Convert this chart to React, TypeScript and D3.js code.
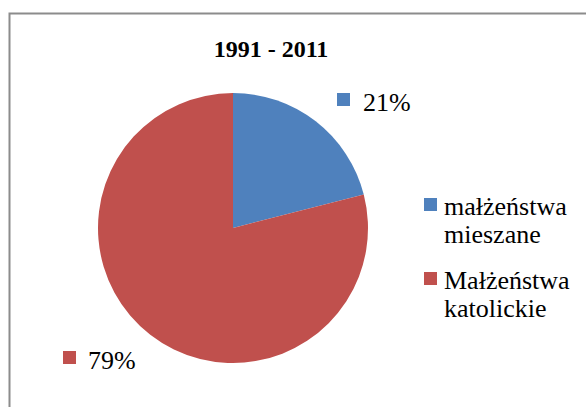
import React from 'react';
import * as d3 from 'd3';

// chart data
const categories = ['małżeństwa mieszane', 'Małżeństwa katolickie'];
const legendLines = [['małżeństwa', 'mieszane'], ['Małżeństwa', 'katolickie']];
const shares = [21, 79];
const title = '1991 - 2011';

const W = 586;
const H = 407;
const FONT = 'Liberation Serif';

const color = d3.scaleOrdinal<string, string>().domain(categories).range(['#4f81bd', '#c0504d']);

export default function App() {
  const cx = 233, cy = 228, r = 135;
  const arcs = d3.pie<number>().sort(null).value(d => d)(shares);
  const arc = d3.arc<d3.PieArcDatum<number>>().innerRadius(0).outerRadius(r);

  // data label placement (square marker + text)
  const labelPos = [
    { sx: 337, sy: 93, tx: 363, ty: 111 },
    { sx: 63, sy: 351, tx: 88, ty: 369 }
  ];

  return (
    <svg width={W} height={H}
      style={{ position: 'absolute', left: 0, top: 0, background: '#fff' }}>
      {/* frame: only top and left edges visible */}
      <rect x={9.5} y={13.5} width={W + 20} height={H + 20} fill="#fff" stroke="#8c8c8c" strokeWidth={2} />
      <text x={271} y={57} textAnchor="middle" fontFamily={FONT} fontWeight="bold" fontSize={24}>{title}</text>

      <g transform={`translate(${cx},${cy})`}>
        {arcs.map((a, i) => (
          <path key={i} d={arc(a) || ''} fill={color(categories[i])} />
        ))}
      </g>

      {arcs.map((a, i) => {
        const p = labelPos[i];
        return (
          <g key={i}>
            <rect x={p.sx} y={p.sy} width={13} height={13} fill={color(categories[i])} />
            <text x={p.tx} y={p.ty} fontFamily={FONT} fontSize={26}>{shares[i] + '%'}</text>
          </g>
        );
      })}

      <g transform="translate(424,198)">
        {categories.map((c, i) => (
          <g key={c} transform={`translate(0,${i * 74})`}>
            <rect width={13} height={13} fill={color(c)} />
            {legendLines[i].map((line, j) => (
              <text key={j} x={20} y={17 + j * 28} fontFamily={FONT} fontSize={26}>{line}</text>
            ))}
          </g>
        ))}
      </g>
    </svg>
  );
}
